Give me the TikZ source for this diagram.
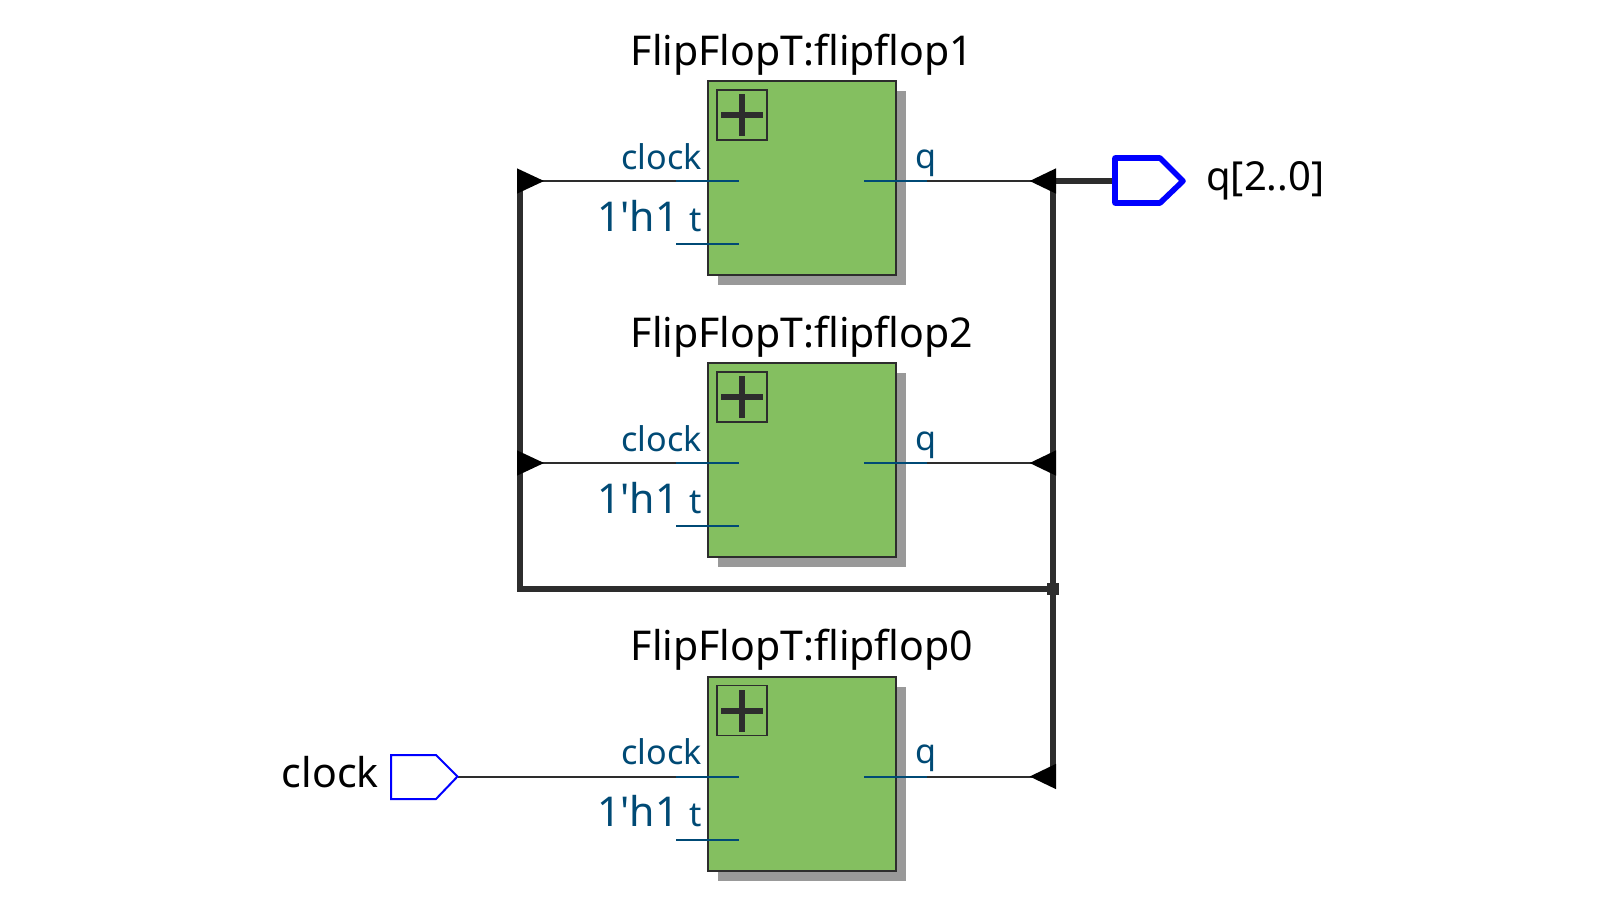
\documentclass[tikz,border=0pt]{standalone}
\usepackage{fontspec}
\setmainfont{Noto Sans}
\newfontfamily\constfont{Noto Sans}
\definecolor{wirec}{HTML}{2D2D2D}
\definecolor{pinc}{HTML}{004A75}
\definecolor{boxc}{HTML}{84BF60}
\definecolor{shadowc}{HTML}{999999}
\definecolor{portc}{HTML}{0000FF}
\newcommand{\pxfont}[1]{\fontsize{#1}{#1}\selectfont}
\tikzset{
  wire/.style={draw=wirec,line width=1.5pt},
  bus/.style={draw=wirec,line width=4.5pt},
  pinline/.style={draw=pinc,line width=1.5pt},
  blockbox/.style={draw=wirec,fill=boxc,line width=1.5pt,minimum width=141pt,minimum height=145.5pt,inner sep=0pt,outer sep=0pt},
  plusbox/.style={draw=wirec,line width=1.2pt,minimum width=37.5pt,minimum height=37.5pt,inner sep=0pt,outer sep=0pt},
  title/.style={text=black,font=\pxfont{30.8},inner sep=0pt},
  pintext/.style={text=pinc,font=\pxfont{25.6},inner sep=0pt},
  consttext/.style={text=pinc,font=\constfont\pxfont{30.8},inner sep=0pt},
  porttext/.style={text=black,font=\pxfont{30.8},inner sep=0pt},
  outporttext/.style={text=black,font=\pxfont{30},inner sep=0pt},
  tip/.style={fill=black,draw=none},
  inport/.style={draw=portc,line width=1.5pt,line join=miter},
  outport/.style={draw=portc,line width=4.2pt,line join=round},
}
% #1 id, #2 y of the clock wire, #3 title
\newcommand{\ffblock}[3]{%
  \fill[shadowc] (718,#2-90) rectangle (906,#2+104);
  \node[blockbox] (box#1) at (802,#2-3) {};
  \node[plusbox] (plus#1) at (742,#2-66) {};
  \fill[wirec] (721,#2-69) rectangle (763,#2-63);
  \fill[wirec] (739,#2-87) rectangle (745,#2-45);
  \node[title,anchor=base] (title#1) at (802,#2-116) {#3};
  \coordinate (clkL#1) at (676,#2);
  \coordinate (clkR#1) at (739,#2);
  \coordinate (tL#1) at (676,#2+63);
  \coordinate (tR#1) at (739,#2+63);
  \coordinate (qL#1) at (864,#2);
  \coordinate (qR#1) at (927,#2);
  \node[pintext,anchor=base east] (clktext#1) at (702,#2-12) {clock};
  \node[pintext,anchor=base east] (ttext#1) at (702,#2+50) {t};
  \node[consttext,anchor=base east] (const#1) at (679,#2+50) {1'h1};
  \node[pintext,anchor=base west] (qtext#1) at (915,#2-13) {q};
}
\begin{document}
\begin{tikzpicture}[x=0.75pt,y=-0.75pt]
\useasboundingbox (0,0) rectangle (1606,900);
\fill[white] (0,0) rectangle (1606,900);

% named wire points
\coordinate (busRtop) at (1053,181);
\coordinate (busRmid) at (1053,463);
\coordinate (busRjoin) at (1053,589);
\coordinate (busRbot) at (1053,776.5);
\coordinate (busLtop) at (520,181);
\coordinate (busLmid) at (520,463);
\coordinate (busLjoin) at (520,589);

% blocks
\ffblock{1}{181}{FlipFlopT:flipflop1}
\ffblock{2}{463}{FlipFlopT:flipflop2}
\ffblock{0}{776.5}{FlipFlopT:flipflop0}

% ports
\node[porttext,anchor=base east] (clocktext) at (379,787.5) {clock};
\node[outporttext,anchor=base west] (qouttext) at (1206,190) {q[2..0]};
\coordinate (inTip) at (457.5,776.5);
\coordinate (outL) at (1115,181);

% wires
\draw[wire] (inTip) -- (clkL0);
\draw[wire] (busLtop) -- (clkL1);
\draw[wire] (busLmid) -- (clkL2);
\draw[wire] (qR1) -- (busRtop);
\draw[wire] (qR2) -- (busRmid);
\draw[wire] (qR0) -- (busRbot);
\draw[bus,line cap=rect] (busRtop) -- (busRbot);
\draw[bus] (busRtop) -- (outL);
\draw[bus,line cap=rect] (busLtop) -- (busLjoin) -- (busRjoin);

% pin stubs
\foreach \i in {0,1,2}{
  \draw[pinline] (clkL\i) -- (clkR\i);
  \draw[pinline] (tL\i) -- (tR\i);
  \draw[pinline] (qL\i) -- (qR\i);
}

% junction
\fill[wirec] ([xshift=-4.5pt,yshift=-4.5pt]busRjoin) rectangle ([xshift=4.5pt,yshift=4.5pt]busRjoin);

% arrow tips
\foreach \c in {busLtop,busLmid}{
  \fill[tip] ([xshift=-2.25pt,yshift=9.5pt]\c) -- ([xshift=-2.25pt,yshift=-9.5pt]\c) -- ([xshift=18pt]\c) -- cycle;
}
\foreach \c in {busRtop,busRmid,busRbot}{
  \fill[tip] ([xshift=2.25pt,yshift=9.5pt]\c) -- ([xshift=2.25pt,yshift=-9.5pt]\c) -- ([xshift=-17.5pt]\c) -- cycle;
}

% port shapes
\draw[inport] (391,755) -- (436,755) -- (inTip) -- (436,799) -- (391,799) -- cycle;
\draw[outport] (outL) -- (1115,158) -- (1160,158) -- (1183,181) -- (1160,203) -- (1115,203) -- cycle;
\end{tikzpicture}
\end{document}
